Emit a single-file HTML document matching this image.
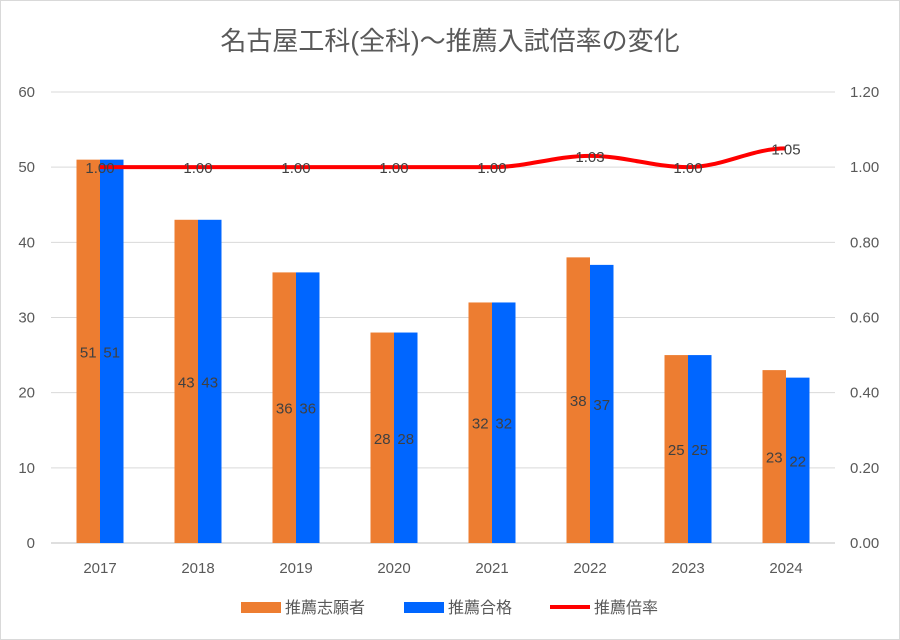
<!DOCTYPE html>
<html><head><meta charset="utf-8"><style>
body{margin:0;background:#fff}
svg{display:block;font-family:"Liberation Sans","Noto Sans CJK JP",sans-serif}
</style></head><body>
<svg id="c" width="900" height="640">
<rect x="0.5" y="0.5" width="899" height="639" fill="#fff" stroke="#d9d9d9"/>
<text x="450" y="50" text-anchor="middle" font-size="26" fill="#595959">名古屋工科(全科)～推薦入試倍率の変化</text>
<g id="grid"></g><g id="bars"></g><g id="line"></g><g id="labels"></g><g id="axes"></g>
<g>
<rect x="241" y="602" width="40" height="11" fill="#ed7d31"/>
<text x="285" y="613" font-size="16" fill="#595959">推薦志願者</text>
<rect x="404" y="602" width="40" height="11" fill="#0066ff"/>
<text x="448" y="613" font-size="16" fill="#595959">推薦合格</text>
<line x1="550" y1="607" x2="590" y2="607" stroke="#ff0000" stroke-width="4"/>
<text x="594" y="613" font-size="16" fill="#595959">推薦倍率</text>
</g>
</svg>
<script>
const categories=["2017","2018","2019","2020","2021","2022","2023","2024"];
const applicants=[51,43,36,28,32,38,25,23];
const passed=[51,43,36,28,32,37,25,22];
const ratio=[1.00,1.00,1.00,1.00,1.00,1.03,1.00,1.05];
const leftTicks=[0,10,20,30,40,50,60];
const rightTicks=[0,0.2,0.4,0.6,0.8,1.0,1.2];
const NS="http://www.w3.org/2000/svg";
const L=51,R=835,T=92,B=543;
const yL=v=>B-(v/60)*(B-T);
const yR=v=>B-(v/1.2)*(B-T);
const bw=(R-L)/categories.length;
const xc=i=>L+bw*(i+0.5);
function mk(tag,attrs,parent,text){const e=document.createElementNS(NS,tag);for(const k in attrs)e.setAttribute(k,attrs[k]);if(text!==undefined)e.textContent=text;document.getElementById(parent).appendChild(e);return e;}
leftTicks.forEach((t,i)=>{
 const g=mk('line',{x1:L,x2:R,y1:yL(t),y2:yL(t),stroke:t===0?'#bfbfbf':'#d9d9d9','stroke-width':1},'grid');
 
 
 const a=mk('text',{x:35,y:yL(t)+5,'text-anchor':'end','font-size':15,fill:'#595959'},'axes',String(t));
 
 
});
rightTicks.forEach(t=>{
 const a=mk('text',{x:850,y:yR(t)+5,'font-size':15,fill:'#595959'},'axes',t.toFixed(2));
 
 
});
const w=23.5;
categories.forEach((c,i)=>{
 const x=xc(i);
 const r1=mk('rect',{x:x-w,y:yL(applicants[i]),width:w,height:B-yL(applicants[i]),fill:'#ed7d31'},'bars');
 
 
 const r2=mk('rect',{x:x,y:yL(passed[i]),width:w,height:B-yL(passed[i]),fill:'#0066ff'},'bars');
 
 
 const t1=mk('text',{x:x-w/2,y:(yL(applicants[i])+B)/2+6,'text-anchor':'middle','font-size':15,fill:'#404040'},'labels',String(applicants[i]));
 
 
 const t2=mk('text',{x:x+w/2,y:(yL(passed[i])+B)/2+6,'text-anchor':'middle','font-size':15,fill:'#404040'},'labels',String(passed[i]));
 
 
 const xl=mk('text',{x:x,y:573,'text-anchor':'middle','font-size':15,fill:'#595959'},'axes',c);
 
 
 const rl=mk('text',{x:x,y:yR(ratio[i])+6,'text-anchor':'middle','font-size':15,fill:'#404040'},'labels',ratio[i].toFixed(2));
 
 
});
let d='';
ratio.forEach((v,i)=>{const x=xc(i),y=yR(v);
 if(i===0)d+='M'+x+','+y;
 else{const px=xc(i-1),py=yR(ratio[i-1]);d+=' C'+(px+bw*0.35)+','+py+' '+(x-bw*0.35)+','+y+' '+x+','+y;}
});
const p=mk('path',{d:d,fill:'none',stroke:'#ff0000','stroke-width':4},'line');


</script>
</body></html>
